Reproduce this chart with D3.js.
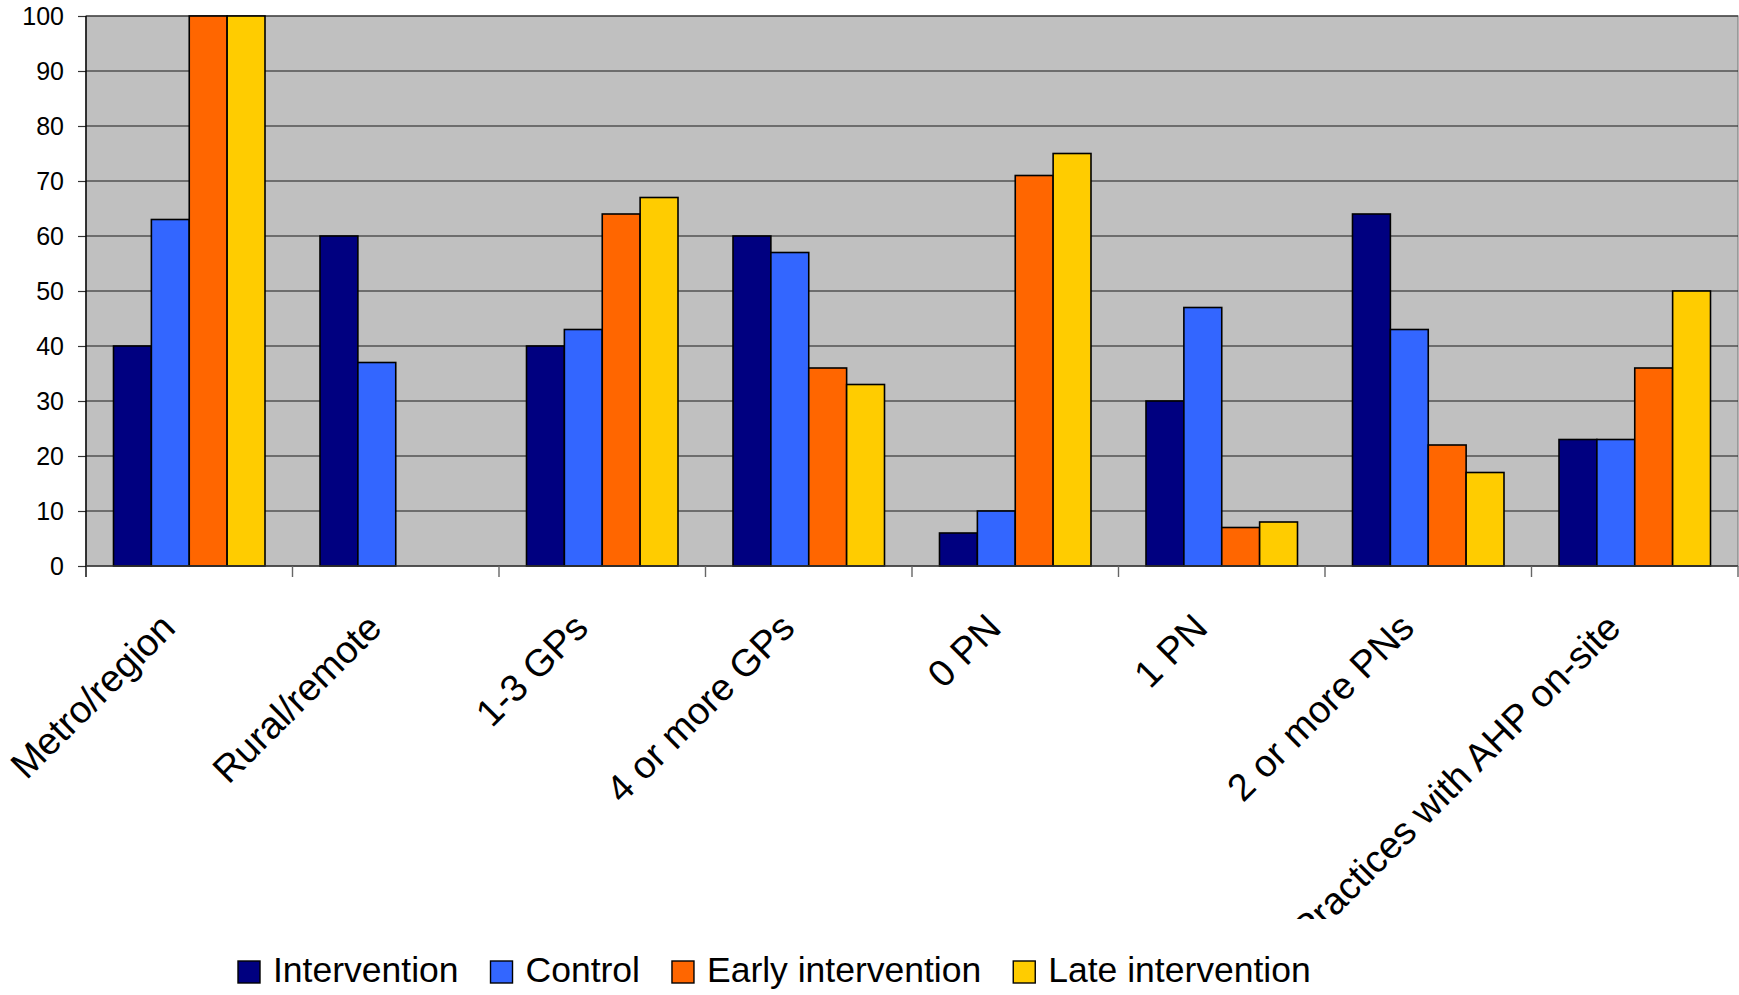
<!DOCTYPE html>
<meta charset="utf-8">
<script src="https://d3js.org/d3.v7.min.js"></script>
<style>
  body { margin: 0; background: #fff; }
  text { font-family: "Liberation Sans", Arial, sans-serif; fill: #000; }
</style>
<div id="chart"></div>
<script>
// data (percent)
var categories = ["Metro/region", "Rural/remote", "1-3 GPs", "4 or more GPs",
                  "0 PN", "1 PN", "2 or more PNs", "Practices with AHP on-site"];
var series = ["Intervention", "Control", "Early intervention", "Late intervention"];
var intervention = [40, 60, 40, 60, 6, 30, 64, 23];
var control      = [63, 37, 43, 57, 10, 47, 43, 23];
var early        = [100, 0, 64, 36, 71, 7, 22, 36];
var late         = [100, 0, 67, 33, 75, 8, 17, 50];
var yTicks = [0, 10, 20, 30, 40, 50, 60, 70, 80, 90, 100];
var colors = ["#000080", "#3366FF", "#FF6600", "#FFCC00"];

var values = [intervention, control, early, late];
var rows = [];
categories.forEach(function(c, i) {
  series.forEach(function(s, j) {
    rows.push({cat: c, series: s, value: values[j][i]});
  });
});

var W = 1739, H = 995;
// plot area edges
var plotL = 86, plotR = 1738, plotT = 16, plotB = 566;

var svg = d3.select("#chart").append("svg")
    .attr("width", W)
    .attr("height", H);

var x0 = d3.scaleBand().domain(categories).range([plotL, plotR]);
var groupPad = 27.5;
var x1 = d3.scaleBand().domain(series).range([groupPad, x0.bandwidth() - groupPad]);
var y = d3.scaleLinear().domain([0, 100]).range([plotB, plotT]);
var color = d3.scaleOrdinal().domain(series).range(colors);

// plot background
svg.append("rect")
  .attr("x", plotL).attr("y", plotT)
  .attr("width", plotR - plotL).attr("height", plotB - plotT)
  .style("fill", "#C0C0C0")
  .style("stroke", "#808080")
  .style("stroke-width", 1.2);

// gridlines
svg.append("g").selectAll("line")
  .data(yTicks.filter(function(d) { return d > 0; }))
  .enter().append("line")
    .attr("x1", plotL).attr("x2", plotR)
    .attr("y1", function(d) { return y(d); })
    .attr("y2", function(d) { return y(d); })
    .style("stroke", "#1a1a1a")
    .style("stroke-width", 1.1);

// bars
svg.append("g").selectAll("rect")
  .data(rows)
  .enter().append("rect")
    .attr("x", function(d) { return x0(d.cat) + x1(d.series); })
    .attr("y", function(d) { return y(d.value); })
    .attr("width", x1.bandwidth())
    .attr("height", function(d) { return y(0) - y(d.value); })
    .style("fill", function(d) { return color(d.series); })
    .style("stroke", "#000")
    .style("stroke-width", 1.6);

// y axis
var yAxis = svg.append("g")
  .attr("transform", "translate(" + plotL + ",0)")
  .call(d3.axisLeft(y).tickValues(yTicks).tickSize(8).tickPadding(14));
yAxis.select(".domain").remove();
yAxis.selectAll(".tick line").style("stroke", "#333").style("stroke-width", 1.2);
yAxis.selectAll(".tick text")
  .style("font-size", "25px")
  .style("font-family", "'Liberation Sans', Arial, sans-serif");
svg.append("line")
  .attr("x1", plotL).attr("x2", plotL)
  .attr("y1", plotT).attr("y2", plotB + 11)
  .style("stroke", "#000").style("stroke-width", 1.4);

// x axis line and category ticks
svg.append("line")
  .attr("x1", plotL).attr("x2", plotR)
  .attr("y1", plotB).attr("y2", plotB)
  .style("stroke", "#333").style("stroke-width", 1.4);
var bounds = categories.map(function(c) { return x0(c); }).concat([plotR]);
svg.append("g").selectAll("line")
  .data(bounds.slice(1))
  .enter().append("line")
    .attr("x1", function(d) { return d; }).attr("x2", function(d) { return d; })
    .attr("y1", plotB).attr("y2", plotB + 11)
    .style("stroke", "#666").style("stroke-width", 1.4);

// category labels, clipped at the bottom like the original
svg.append("clipPath").attr("id", "labelclip")
  .append("rect").attr("x", 0).attr("y", plotB).attr("width", W).attr("height", 919 - plotB);

svg.append("g")
  .attr("clip-path", "url(#labelclip)")
  .selectAll("text")
  .data(categories)
  .enter().append("text")
    .attr("transform", function(d) {
      return "translate(" + (x0(d) + x0.bandwidth() / 2 - 12) + ",630) rotate(-45)";
    })
    .attr("text-anchor", "end")
    .style("font-size", "38px")
    .text(function(d) { return d; });

// legend
var legend = svg.append("g");
var lx = 238;
series.forEach(function(s) {
  legend.append("rect")
    .attr("x", lx).attr("y", 961)
    .attr("width", 22).attr("height", 22)
    .style("fill", color(s))
    .style("stroke", "#000")
    .style("stroke-width", 1.4);
  var t = legend.append("text")
    .attr("x", lx + 35)
    .attr("y", 982)
    .style("font-size", "35.5px")
    .text(s);
  lx += 35 + t.node().getComputedTextLength() + 32;
});
</script>
